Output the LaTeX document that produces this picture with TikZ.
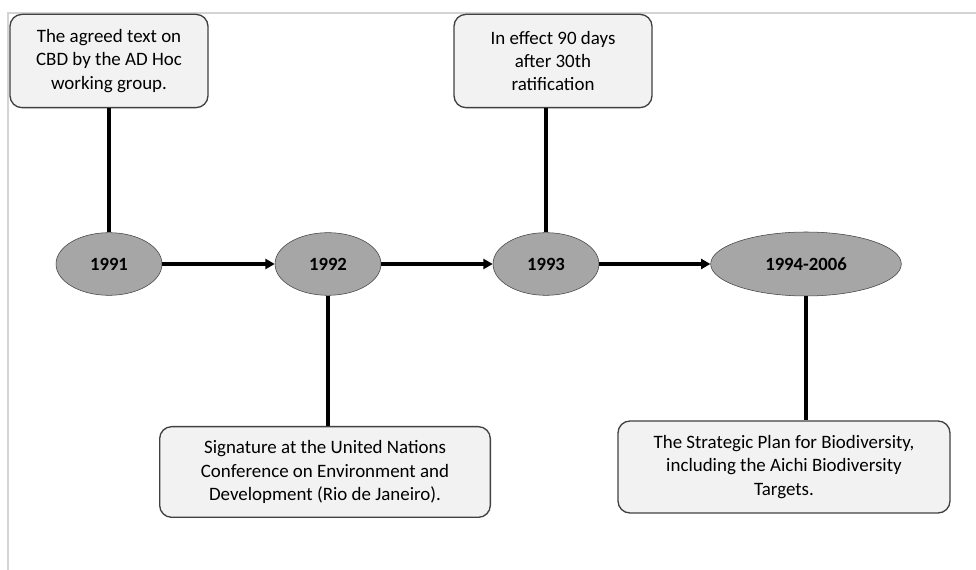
\documentclass[tikz,border=0pt]{standalone}
\usepackage{fontspec}
\setmainfont{Carlito}
\usetikzlibrary{arrows.meta,shapes.geometric}
\definecolor{boxfill}{HTML}{F2F2F2}
\definecolor{yearfill}{HTML}{A6A6A6}
\definecolor{edgegray}{HTML}{404040}
\definecolor{framegray}{HTML}{D4D4D4}

\begin{document}
\begin{tikzpicture}[
  x=0.75pt, y=-0.75pt,
  year/.style={ellipse, draw=edgegray, fill=yearfill, inner sep=0pt,
    font=\bfseries\fontsize{14}{17}\selectfont, minimum height=47pt, minimum width=79.5pt},
  note/.style={draw=edgegray, line width=1pt, fill=boxfill, rounded corners=9pt,
    align=center, font=\fontsize{14.2}{17.5}\selectfont, inner sep=2pt},
  arrow/.style={-{Triangle[length=7pt, width=7.5pt]}, line width=2.6pt},
  stem/.style={line width=2.6pt}
]
\useasboundingbox (0,0) rectangle (976,570);
\draw[framegray, line width=0.8pt] (976,13) -- (8,13) -- (8,570);

% years along the line
\node[year] (y1991) at (109,264) {1991};
\node[year] (y1992) at (328,264) {1992};
\node[year] (y1993) at (546,264) {1993};
\node[year, minimum width=143pt, minimum height=48pt] (y1994) at (806,264) {1994-2006};

% notes above and below
\node[note, minimum width=148.5pt, minimum height=70pt] (cbd) at (109,61)
  {The agreed text on\\CBD by the AD Hoc\\working group.};
\node[note, minimum width=248pt, minimum height=68pt] (rio) at (325,472)
  {Signature at the United Nations\\Conference on Environment and\\Development (Rio de Janeiro).};
\node[note, minimum width=148.5pt, minimum height=70pt] (effect) at (553,61)
  {In effect 90 days\\after 30th\\ratification};
\node[note, minimum width=249pt, minimum height=69pt] (plan) at (784,467)
  {The Strategic Plan for Biodiversity,\\including the Aichi Biodiversity\\Targets.};

\draw[arrow] (y1991) -- (y1992);
\draw[arrow] (y1992) -- (y1993);
\draw[arrow] (y1993) -- (y1994);

\draw[stem] (cbd.south -| y1991.north) -- (y1991.north);
\draw[stem] (y1992.south) -- (y1992.south |- rio.north);
\draw[stem] (effect.south -| y1993.north) -- (y1993.north);
\draw[stem] (y1994.south) -- (y1994.south |- plan.north);
\end{tikzpicture}
\end{document}
